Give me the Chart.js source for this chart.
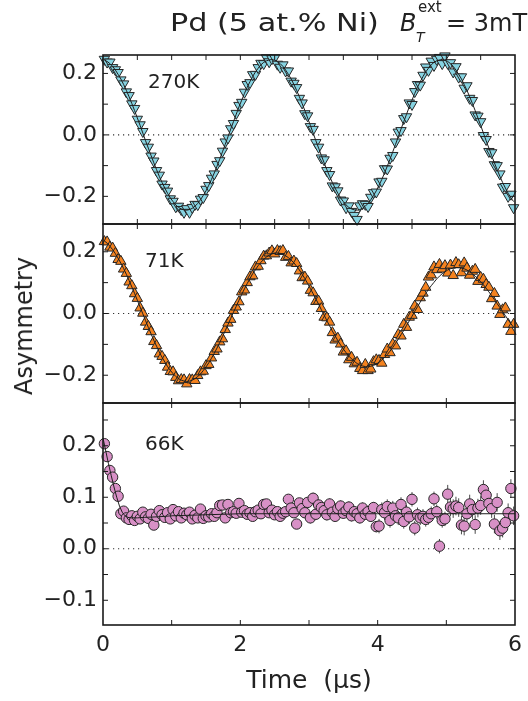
<!DOCTYPE html>
<html>
<head>
<meta charset="utf-8">
<script src="https://cdn.jsdelivr.net/npm/chart.js@4.4.0/dist/chart.umd.min.js"></script>
<style>
  html, body { margin: 0; padding: 0; background: #fff; }
  #page { position: relative; width: 528px; height: 701px; overflow: hidden;
          font-family: "DejaVu Sans", "Liberation Sans", Arial, sans-serif; color: #222; }
  canvas { position: absolute; left: 0; }
  .lbl { position: absolute; white-space: nowrap; line-height: 1; }
</style>
</head>
<body>
<div id="page">
  <canvas id="c270" width="528" height="240" style="top:0px"></canvas>
  <canvas id="c71" width="528" height="211" style="top:208px"></canvas>
  <canvas id="c66" width="528" height="314" style="top:387px"></canvas>

  <div class="lbl" style="left:170px; top:11px; font-size:24px; transform:scaleX(1.26); transform-origin:left top;">Pd (5 at.% Ni)</div>
  <div class="lbl" style="left:400px; top:11px; font-size:24px; font-style:italic;">B</div>
  <div class="lbl" style="left:418px; top:0px; font-size:15px;">ext</div>
  <div class="lbl" style="left:416px; top:30px; font-size:14px; font-style:italic;">T</div>
  <div class="lbl" style="left:446px; top:11px; font-size:24px;">= 3mT</div>

  <div class="lbl" style="left:148px; top:71px; font-size:20px;">270K</div>
  <div class="lbl" style="left:145px; top:250px; font-size:20px;">71K</div>
  <div class="lbl" style="left:145px; top:433px; font-size:20px;">66K</div>

  <div class="lbl" style="left:24px; top:326px; font-size:24px; transform:translate(-50%,-50%) rotate(-90deg);">Asymmetry</div>
</div>

<script>
// time bins (µs), shared by the three runs
const tSec = [
  0.02,0.06,0.10,0.14,0.18,0.22,0.26,0.30,0.34,0.38,
  0.42,0.46,0.50,0.54,0.58,0.62,0.66,0.70,0.74,0.78,
  0.82,0.86,0.90,0.94,0.98,1.02,1.06,1.10,1.14,1.18,
  1.22,1.26,1.30,1.34,1.38,1.42,1.46,1.50,1.54,1.58,
  1.62,1.66,1.70,1.74,1.78,1.82,1.86,1.90,1.94,1.98,
  2.02,2.06,2.10,2.14,2.18,2.22,2.26,2.30,2.34,2.38,
  2.42,2.46,2.50,2.54,2.58,2.62,2.66,2.70,2.74,2.78,
  2.82,2.86,2.90,2.94,2.98,3.02,3.06,3.10,3.14,3.18,
  3.22,3.26,3.30,3.34,3.38,3.42,3.46,3.50,3.54,3.58,
  3.62,3.66,3.70,3.74,3.78,3.82,3.86,3.90,3.94,3.98,
  4.02,4.06,4.10,4.14,4.18,4.22,4.26,4.30,4.34,4.38,
  4.42,4.46,4.50,4.54,4.58,4.62,4.66,4.70,4.74,4.78,
  4.82,4.86,4.90,4.94,4.98,5.02,5.06,5.10,5.14,5.18,
  5.22,5.26,5.30,5.34,5.38,5.42,5.46,5.50,5.54,5.58,
  5.62,5.66,5.70,5.74,5.78,5.82,5.86,5.90,5.94,5.98
];

// 270K
const asym270 = [
  0.246,0.237,0.237,0.219,0.212,0.203,0.179,0.166,0.140,0.128,
  0.101,0.086,0.051,0.033,0.011,-0.025,-0.040,-0.069,-0.085,-0.116,
  -0.131,-0.160,-0.171,-0.183,-0.208,-0.216,-0.234,-0.232,-0.243,-0.252,
  -0.240,-0.252,-0.236,-0.226,-0.227,-0.209,-0.204,-0.177,-0.165,-0.141,
  -0.127,-0.096,-0.084,-0.053,-0.023,-0.010,0.020,0.037,0.070,0.096,
  0.106,0.139,0.164,0.170,0.196,0.197,0.219,0.233,0.232,0.251,
  0.238,0.248,0.251,0.230,0.220,0.228,0.208,0.208,0.175,0.168,
  0.154,0.119,0.104,0.069,0.062,0.027,0.018,-0.025,-0.040,-0.075,
  -0.081,-0.116,-0.129,-0.166,-0.169,-0.182,-0.212,-0.215,-0.237,-0.231,
  -0.249,-0.262,-0.275,-0.231,-0.224,-0.226,-0.233,-0.203,-0.188,-0.186,
  -0.153,-0.151,-0.110,-0.111,-0.076,-0.067,-0.023,0.009,0.014,0.053,
  0.059,0.104,0.099,0.141,0.164,0.162,0.194,0.221,0.210,0.240,
  0.226,0.246,0.252,0.232,0.257,0.233,0.235,0.205,0.222,0.188,
  0.189,0.152,0.160,0.119,0.112,0.065,0.061,0.043,-0.002,-0.015,
  -0.054,-0.058,-0.097,-0.100,-0.127,-0.170,-0.168,-0.200,-0.193,-0.237
];
const fit270 = [
  0.243,0.239,0.232,0.223,0.211,0.197,0.182,0.164,0.145,0.124,
  0.102,0.079,0.055,0.031,0.006,-0.019,-0.043,-0.067,-0.091,-0.113,
  -0.135,-0.155,-0.173,-0.190,-0.205,-0.217,-0.228,-0.236,-0.241,-0.244,
  -0.245,-0.243,-0.239,-0.232,-0.223,-0.211,-0.197,-0.182,-0.164,-0.145,
  -0.124,-0.102,-0.079,-0.055,-0.031,-0.006,0.019,0.043,0.067,0.091,
  0.113,0.135,0.155,0.173,0.190,0.205,0.217,0.228,0.236,0.241,
  0.244,0.245,0.243,0.239,0.232,0.223,0.211,0.197,0.182,0.164,
  0.145,0.124,0.102,0.079,0.055,0.031,0.006,-0.019,-0.043,-0.067,
  -0.091,-0.113,-0.135,-0.155,-0.173,-0.190,-0.205,-0.217,-0.228,-0.236,
  -0.241,-0.244,-0.245,-0.243,-0.239,-0.232,-0.223,-0.211,-0.197,-0.182,
  -0.164,-0.145,-0.124,-0.102,-0.079,-0.055,-0.031,-0.006,0.019,0.043,
  0.067,0.091,0.113,0.135,0.155,0.173,0.190,0.205,0.217,0.228,
  0.236,0.241,0.244,0.245,0.243,0.239,0.232,0.223,0.211,0.197,
  0.182,0.164,0.145,0.124,0.102,0.079,0.055,0.031,0.006,-0.019,
  -0.043,-0.067,-0.091,-0.113,-0.135,-0.155,-0.173,-0.190,-0.205,-0.217
];
const err270 = [0.003, 0.004, 0.005, 0.006, 0.008, 0.010]; // per µs

// 71K
const asym71 = [
  0.233,0.232,0.215,0.212,0.195,0.175,0.169,0.144,0.130,0.102,
  0.090,0.064,0.049,0.018,0.001,-0.028,-0.042,-0.059,-0.091,-0.104,
  -0.131,-0.139,-0.152,-0.174,-0.188,-0.189,-0.207,-0.218,-0.214,-0.215,
  -0.228,-0.214,-0.215,-0.217,-0.201,-0.189,-0.187,-0.169,-0.165,-0.144,
  -0.123,-0.115,-0.092,-0.082,-0.052,-0.031,-0.019,0.010,0.021,0.038,
  0.070,0.076,0.100,0.119,0.122,0.151,0.153,0.171,0.186,0.187,
  0.196,0.203,0.193,0.204,0.201,0.204,0.182,0.185,0.164,0.170,
  0.162,0.138,0.116,0.118,0.105,0.075,0.067,0.039,0.040,0.016,
  -0.012,-0.014,-0.028,-0.062,-0.086,-0.080,-0.099,-0.125,-0.121,-0.150,
  -0.142,-0.163,-0.158,-0.178,-0.185,-0.165,-0.185,-0.180,-0.156,-0.150,
  -0.152,-0.161,-0.133,-0.115,-0.127,-0.099,-0.105,-0.068,-0.073,-0.035,
  -0.045,-0.012,-0.006,0.024,0.013,0.051,0.066,0.085,0.118,0.125,
  0.151,0.142,0.159,0.144,0.155,0.131,0.157,0.123,0.165,0.158,
  0.132,0.164,0.147,0.124,0.137,0.143,0.104,0.117,0.111,0.094,
  0.085,0.048,0.065,0.024,-0.003,0.012,0.018,-0.035,-0.058,-0.035
];
const fit71 = [
  0.235,0.228,0.218,0.207,0.194,0.179,0.163,0.146,0.127,0.107,
  0.086,0.065,0.043,0.021,-0.001,-0.023,-0.045,-0.066,-0.087,-0.106,
  -0.125,-0.142,-0.157,-0.172,-0.184,-0.195,-0.204,-0.211,-0.216,-0.219,
  -0.220,-0.219,-0.216,-0.211,-0.204,-0.196,-0.185,-0.173,-0.160,-0.145,
  -0.129,-0.112,-0.094,-0.075,-0.056,-0.036,-0.016,0.004,0.023,0.043,
  0.062,0.080,0.097,0.113,0.129,0.142,0.155,0.166,0.175,0.183,
  0.189,0.193,0.196,0.196,0.195,0.192,0.187,0.181,0.173,0.164,
  0.153,0.141,0.127,0.113,0.097,0.081,0.064,0.047,0.030,0.012,
  -0.005,-0.023,-0.040,-0.057,-0.072,-0.088,-0.102,-0.115,-0.127,-0.138,
  -0.147,-0.155,-0.162,-0.167,-0.170,-0.172,-0.173,-0.171,-0.168,-0.164,
  -0.158,-0.151,-0.142,-0.133,-0.122,-0.110,-0.097,-0.083,-0.069,-0.055,
  -0.039,-0.024,-0.009,0.007,0.022,0.037,0.051,0.065,0.078,0.090,
  0.101,0.112,0.121,0.129,0.135,0.141,0.145,0.147,0.149,0.149,
  0.147,0.145,0.141,0.135,0.129,0.121,0.113,0.103,0.093,0.082,
  0.070,0.058,0.045,0.032,0.019,0.006,-0.007,-0.020,-0.033,-0.045
];
const err71 = [0.003, 0.004, 0.005, 0.007, 0.009, 0.011];

// 66K
const asym66 = [
  0.204,0.179,0.152,0.139,0.117,0.102,0.068,0.073,0.060,0.057,
  0.064,0.055,0.063,0.058,0.071,0.062,0.059,0.067,0.046,0.063,
  0.074,0.066,0.061,0.070,0.058,0.076,0.064,0.072,0.060,0.069,
  0.066,0.071,0.058,0.065,0.060,0.077,0.059,0.064,0.062,0.068,
  0.063,0.070,0.084,0.085,0.060,0.086,0.070,0.072,0.069,0.088,
  0.071,0.074,0.067,0.070,0.063,0.072,0.075,0.068,0.086,0.087,
  0.070,0.075,0.066,0.072,0.063,0.069,0.072,0.096,0.079,0.070,
  0.048,0.089,0.078,0.070,0.090,0.060,0.098,0.067,0.085,0.080,
  0.074,0.066,0.087,0.071,0.063,0.078,0.083,0.069,0.074,0.081,
  0.064,0.072,0.068,0.060,0.079,0.067,0.072,0.063,0.080,0.043,
  0.044,0.076,0.070,0.082,0.055,0.079,0.064,0.060,0.086,0.053,
  0.071,0.062,0.096,0.040,0.066,0.060,0.063,0.057,0.061,0.068,
  0.097,0.072,0.005,0.055,0.058,0.106,0.081,0.078,0.083,0.080,
  0.046,0.044,0.068,0.087,0.076,0.047,0.079,0.084,0.115,0.104,
  0.088,0.078,0.048,0.090,0.035,0.040,0.051,0.070,0.117,0.064
];
const fitT66 = [0,0.04,0.08,0.12,0.16,0.20,0.24,0.28,0.32,0.36,0.40,0.50,0.60,0.80,1.0,1.5,2.0,3.0,4.0,5.0,6.0];
const fit66  = [0.215,0.190,0.165,0.142,0.120,0.100,0.083,0.071,0.064,0.061,0.060,0.060,0.061,0.062,0.064,0.066,0.068,0.068,0.068,0.068,0.068];
const err66 = [0.004, 0.006, 0.008, 0.011, 0.014, 0.018];

// axes
const xLabelVals = [0, 2, 4, 6];
const xLabels = ['0', '2', '4', '6'];
const xHalfTicks = [0.5,1,1.5,2,2.5,3,3.5,4,4.5,5,5.5];
const xUnitTicks = [1,2,3,4,5];
const yVals12 = [-0.2, 0, 0.2];
const yLabels12 = ['\u22120.2', '0.0', '0.2'];
const yMarks12 = [-0.2, -0.1, 0, 0.1, 0.2];
const yVals3 = [-0.1, 0, 0.1, 0.2];
const yLabels3 = ['\u22120.1', '0.0', '0.1', '0.2'];
const yMarks3 = [-0.1, -0.05, 0, 0.05, 0.1, 0.15, 0.2, 0.25];

const FONT = '"DejaVu Sans", "Liberation Sans", Arial, sans-serif';

// frame, inward ticks, dotted zero line and error bars
const framePlugin = {
  id: 'frame',
  beforeDatasetsDraw(chart, args, opts) {
    const {ctx, chartArea: a, scales: {x, y}} = chart;
    ctx.save();
    ctx.strokeStyle = '#333';
    ctx.lineWidth = 1.2;
    ctx.setLineDash([1.2, 3.8]);
    const y0 = y.getPixelForValue(0);
    ctx.beginPath();
    ctx.moveTo(a.left, y0);
    ctx.lineTo(a.right, y0);
    ctx.stroke();
    ctx.restore();

    chart.data.datasets.forEach(ds => {
      if (!ds.errColor) return;
      ctx.save();
      ctx.strokeStyle = ds.errColor;
      ctx.lineWidth = 1;
      ctx.beginPath();
      ds.data.forEach(p => {
        const px = x.getPixelForValue(p.x);
        ctx.moveTo(px, y.getPixelForValue(p.y - p.e));
        ctx.lineTo(px, y.getPixelForValue(p.y + p.e));
      });
      ctx.stroke();
      ctx.restore();
    });
  },
  afterDraw(chart, args, opts) {
    const {ctx, chartArea: a, scales: {x, y}} = chart;
    ctx.save();
    ctx.strokeStyle = '#1a1a1a';
    ctx.lineWidth = 1;
    ctx.beginPath();
    opts.top.forEach(v => {
      const px = x.getPixelForValue(v);
      ctx.moveTo(px, a.top); ctx.lineTo(px, a.top + 5);
    });
    opts.bottom.forEach(v => {
      const px = x.getPixelForValue(v);
      ctx.moveTo(px, a.bottom); ctx.lineTo(px, a.bottom - 5);
    });
    opts.y.forEach(v => {
      const py = y.getPixelForValue(v);
      ctx.moveTo(a.left, py); ctx.lineTo(a.left + 5, py);
      ctx.moveTo(a.right, py); ctx.lineTo(a.right - 5, py);
    });
    ctx.stroke();
    ctx.lineWidth = 1.6;
    ctx.strokeRect(a.left, a.top, a.right - a.left, a.bottom - a.top);
    ctx.restore();
  }
};

function makePoints(ys, errs) {
  return tSec.map((t, i) => ({ x: t, y: ys[i], e: errs[Math.min(errs.length - 1, Math.floor(t))] }));
}

function makePanel(id, cfg) {
  return new Chart(document.getElementById(id), {
    type: 'scatter',
    data: {
      datasets: [
        {
          data: cfg.fit,
          showLine: true,
          pointRadius: 0,
          pointHoverRadius: 0,
          borderColor: '#1e1e1e',
          borderWidth: 1,
          order: 0,
          clip: false
        },
        {
          data: cfg.points,
          pointStyle: cfg.marker,
          pointRotation: cfg.rotation,
          pointRadius: cfg.radius,
          pointBackgroundColor: cfg.color,
          pointBorderColor: '#262626',
          pointBorderWidth: 1,
          order: 1,
          clip: false,
          errColor: cfg.errColor
        }
      ]
    },
    options: {
      responsive: false,
      animation: false,
      devicePixelRatio: 1,
      events: [],
      layout: { padding: cfg.pad },
      plugins: {
        legend: { display: false },
        tooltip: { enabled: false },
        frame: cfg.frame
      },
      scales: {
        x: {
          type: 'linear',
          min: 0,
          max: 6,
          display: cfg.showX,
          afterFit: s => {
            if (!cfg.showX) return;
            s.height = 76; s.paddingLeft = 0; s.paddingRight = 0;
          },
          afterBuildTicks: s => { s.ticks = xLabelVals.map(v => ({ value: v })); },
          grid: { display: false, drawTicks: false },
          border: { display: false },
          ticks: {
            font: { family: FONT, size: 22 },
            color: '#222',
            padding: 7,
            maxRotation: 0,
            callback: (v, i) => xLabels[i]
          },
          title: {
            display: cfg.showX,
            text: 'Time  (\u00b5s)',
            font: { family: FONT, size: 25 },
            color: '#222',
            padding: { top: 0, bottom: 5 }
          }
        },
        y: {
          type: 'linear',
          min: cfg.yMin,
          max: cfg.yMax,
          afterFit: s => { s.width = 103; s.paddingTop = 0; s.paddingBottom = 0; },
          afterBuildTicks: s => { s.ticks = cfg.yVals.map(v => ({ value: v })); },
          grid: { display: false, drawTicks: false },
          border: { display: false },
          ticks: {
            font: { family: FONT, size: 22 },
            color: '#222',
            padding: 6,
            callback: (v, i) => cfg.yLabels[i]
          }
        }
      }
    },
    plugins: [framePlugin]
  });
}

makePanel('c270', {
  fit: tSec.map((t, i) => ({ x: t, y: fit270[i] })),
  points: makePoints(asym270, err270),
  marker: 'triangle', rotation: 180, radius: 6,
  color: '#86d3e1', errColor: '#8a8a8a',
  pad: { left: 0, right: 13, top: 55, bottom: 16 },
  yMin: -0.29, yMax: 0.26,
  yVals: yVals12, yLabels: yLabels12,
  showX: false,
  frame: { top: xHalfTicks, bottom: xHalfTicks, y: yMarks12 }
});

makePanel('c71', {
  fit: tSec.map((t, i) => ({ x: t, y: fit71[i] })),
  points: makePoints(asym71, err71),
  marker: 'triangle', rotation: 0, radius: 6,
  color: '#f4821f', errColor: '#8a8a8a',
  pad: { left: 0, right: 13, top: 16, bottom: 16 },
  yMin: -0.29, yMax: 0.29,
  yVals: yVals12, yLabels: yLabels12,
  showX: false,
  frame: { top: xHalfTicks, bottom: xUnitTicks, y: yMarks12 }
});

makePanel('c66', {
  fit: fitT66.map((t, i) => ({ x: t, y: fit66[i] })),
  points: makePoints(asym66, err66),
  marker: 'circle', rotation: 0, radius: 5.2,
  color: '#d890c6', errColor: '#4a4a4a',
  pad: { left: 0, right: 13, top: 16, bottom: 0 },
  yMin: -0.148, yMax: 0.283,
  yVals: yVals3, yLabels: yLabels3,
  showX: true,
  frame: { top: xUnitTicks, bottom: xUnitTicks, y: yMarks3 }
});
</script>
</body>
</html>
